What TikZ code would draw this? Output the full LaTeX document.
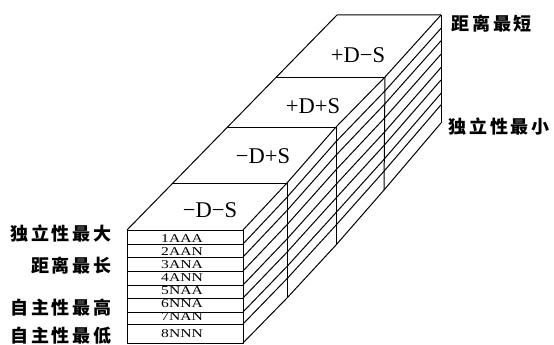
\documentclass[tikz,border=0pt]{standalone}
\usepackage{fontspec}
\setmainfont{Liberation Serif}
\newfontfamily\cjk{Noto Sans CJK SC}
\usetikzlibrary{calc}
\newcommand{\gp}{\kern2.8pt}
\begin{document}
\begin{tikzpicture}[x=1pt,y=-1pt,line width=1pt,line join=round,
  rowtxt/.style={anchor=base,inner sep=0pt,font=\fontsize{12}{12}\selectfont},
  toptxt/.style={anchor=base,inner sep=0pt,font=\fontsize{22.5}{22.5}\selectfont},
  lefttxt/.style={anchor=east,inner sep=0pt,font=\cjk\bfseries\fontsize{18}{18}\selectfont},
  righttxt/.style={anchor=west,inner sep=0pt,font=\cjk\bfseries\fontsize{18}{18}\selectfont}]
\useasboundingbox (0,0) rectangle (554,345);
% corners
\coordinate (L0) at (127,230);
\coordinate (L1) at (173,183);
\coordinate (L2) at (228,127);
\coordinate (L3) at (276,77);
\coordinate (L4) at (337,15);
\coordinate (T0) at (243,230);
\coordinate (T1) at (287,183);
\coordinate (T2) at (336,127);
\coordinate (T3) at (385,77);
\coordinate (T4) at (441,15);
\coordinate (B0) at (243,343);
\coordinate (B1) at (287,298);
\coordinate (B2) at (336,245);
\coordinate (B3) at (384,190);
\coordinate (B4) at (441,123);
% front face
\draw (L0) rectangle (B0);
\foreach \yy in {244,257,271,285,298,312,324}{
  \draw (127,\yy) -- (243,\yy);
}
% top face
\draw (L0) -- (L4) -- (T4);
\draw (L1) -- (T1);
\draw (L2) -- (T2);
\draw (L3) -- (T3);
% side face verticals
\foreach \i in {0,...,4}{ \draw (T\i) -- (B\i); }
% side face layer lines
\foreach \f in {0,0.1239,0.2389,0.3628,0.4867,0.6018,0.7257,0.8319,1}{
  \draw ($(T0)!\f!(B0)$) -- ($(T1)!\f!(B1)$) -- ($(T2)!\f!(B2)$) -- ($(T3)!\f!(B3)$) -- ($(T4)!\f!(B4)$);
}
% row labels
\node[rowtxt] (r1) at (182,242) {\scalebox{1.3}[1]{1AAA}};
\node[rowtxt] (r2) at (182,255) {\scalebox{1.3}[1]{2AAN}};
\node[rowtxt] (r3) at (182,268) {\scalebox{1.3}[1]{3ANA}};
\node[rowtxt] (r4) at (182,281) {\scalebox{1.3}[1]{4ANN}};
\node[rowtxt] (r5) at (182,294) {\scalebox{1.3}[1]{5NAA}};
\node[rowtxt] (r6) at (182,307) {\scalebox{1.3}[1]{6NNA}};
\node[rowtxt] (r7) at (182,320) {\scalebox{1.3}[1]{7NAN}};
\node[rowtxt] (r8) at (182,337) {\scalebox{1.3}[1]{8NNN}};
% top labels
\node[toptxt] (q1) at (210,217) {−D−S};
\node[toptxt] (q2) at (263,163) {−D+S};
\node[toptxt] (q3) at (313,113) {+D+S};
\node[toptxt] (q4) at (358,63) {+D−S};
% left labels
\node[lefttxt] (a1) at (112,234) {独\gp 立\gp 性\gp 最\gp 大};
\node[lefttxt] (a2) at (112,265.5) {距\gp 离\gp 最\gp 长};
\node[lefttxt] (a3) at (112,308) {自\gp 主\gp 性\gp 最\gp 高};
\node[lefttxt] (a4) at (112,336) {自\gp 主\gp 性\gp 最\gp 低};
% right labels
\node[righttxt] (b1) at (451,23.5) {距\gp 离\gp 最\gp 短};
\node[righttxt] (b2) at (448,127) {独\gp 立\gp 性\gp 最\gp 小};
\end{tikzpicture}
\end{document}
